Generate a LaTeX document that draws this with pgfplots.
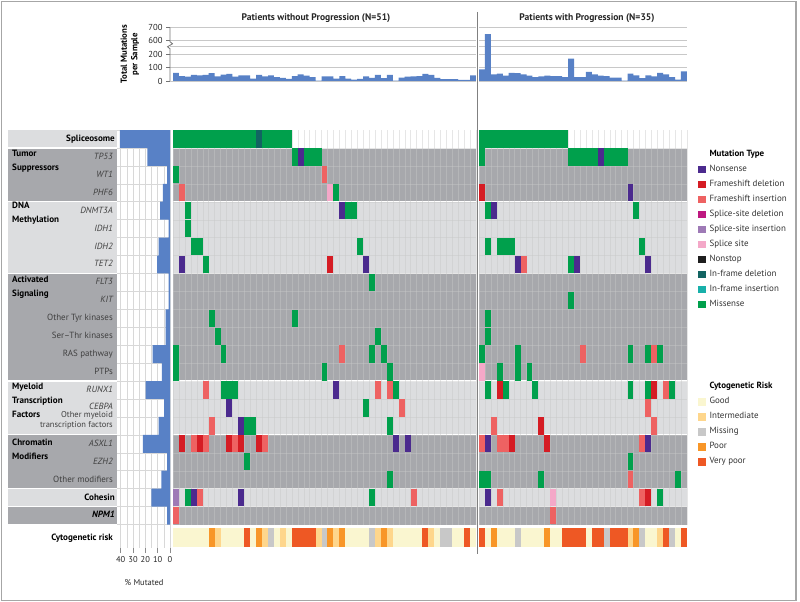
\documentclass[border=0pt]{standalone}
\usepackage{pgfplots}
\pgfplotsset{compat=1.18}
\usepackage{fontspec}
\setmainfont{PT Sans}
\definecolor{barblue}{RGB}{88,129,198}
\definecolor{bandD}{RGB}{167,168,172}
\definecolor{bandL}{RGB}{220,221,223}
\definecolor{cN}{RGB}{75,42,142}
\definecolor{cD}{RGB}{213,28,36}
\definecolor{cI}{RGB}{238,98,98}
\definecolor{cSD}{RGB}{190,24,128}
\definecolor{cSI}{RGB}{158,122,182}
\definecolor{cS}{RGB}{244,168,200}
\definecolor{cNS}{RGB}{30,30,30}
\definecolor{cF}{RGB}{18,100,98}
\definecolor{cFI}{RGB}{24,176,170}
\definecolor{cG}{RGB}{0,160,76}
\definecolor{rGood}{RGB}{250,246,208}
\definecolor{rInt}{RGB}{254,214,140}
\definecolor{rMis}{RGB}{200,200,200}
\definecolor{rPoor}{RGB}{248,150,40}
\definecolor{rVP}{RGB}{238,88,36}
\definecolor{gridc}{RGB}{200,200,200}

\pgfdeclareplotmark{cell}{\pgfpathrectangle{\pgfqpoint{-2.97bp}{-8.65bp}}{\pgfqpoint{5.94bp}{17.3bp}}\pgfusepathqfill}
\pgfdeclareplotmark{cyto}{\pgfpathrectangle{\pgfqpoint{-2.97bp}{-9.5bp}}{\pgfqpoint{5.94bp}{19bp}}\pgfusepathqfill}

\pgfplotsset{
  sqleg/.style={legend image code/.code={\fill[#1] (0bp,-3.2bp) rectangle (6.4bp,3.2bp);}},
  mutclasses/.style={scatter/classes={
     G={mark=cell,fill=cG,draw=cG},
     N={mark=cell,fill=cN,draw=cN},
     D={mark=cell,fill=cD,draw=cD},
     I={mark=cell,fill=cI,draw=cI},
     P={mark=cell,fill=cSI,draw=cSI},
     S={mark=cell,fill=cS,draw=cS},
     F={mark=cell,fill=cF,draw=cF}}},
  cytoclasses/.style={scatter/classes={
     g={mark=cyto,fill=rGood,draw=rGood},
     i={mark=cyto,fill=rInt,draw=rInt},
     m={mark=cyto,fill=rMis,draw=rMis},
     p={mark=cyto,fill=rPoor,draw=rPoor},
     v={mark=cyto,fill=rVP,draw=rVP}}},
  heat/.style={scale only axis, y dir=reverse, ymin=-0.5, ymax=21.5, height=394.5bp,
     axis on top, axis line style={draw=none}, major tick length=0pt,
     xticklabels={}, yticklabels={}, ytick={0.5,1.5,...,20.5},
     grid=major, major grid style={color=gridc, line width=0.3bp, opacity=0.45}},
  legsty/.style={legend style={at={#1}, anchor=north west, draw=none, fill=none, inner sep=0pt,
    row sep=5.2bp, font=\fontsize{9}{10}\selectfont, text=black!80,
    nodes={inner sep=0.6bp, text height=6.6bp, text depth=2bp},
    /tikz/every odd column/.append style={column sep=4bp}},
    legend cell align=left},
}
\newcommand\heatbands[1]{%
  \fill[bandD] (axis cs:-0.5,0.5) rectangle (axis cs:#1,3.5);
  \fill[bandL] (axis cs:-0.5,3.5) rectangle (axis cs:#1,7.5);
  \fill[bandD] (axis cs:-0.5,7.5) rectangle (axis cs:#1,13.5);
  \fill[bandL] (axis cs:-0.5,13.5) rectangle (axis cs:#1,16.5);
  \fill[bandD] (axis cs:-0.5,16.5) rectangle (axis cs:#1,19.5);
  \fill[bandL] (axis cs:-0.5,19.5) rectangle (axis cs:#1,20.5);
  \fill[bandD] (axis cs:-0.5,20.5) rectangle (axis cs:#1,21.5);
  \draw[white, line width=1.2bp] (axis cs:-0.5,0.5) -- (axis cs:#1,0.5);
  \draw[white, line width=1.2bp] (axis cs:-0.5,3.5) -- (axis cs:#1,3.5);
  \draw[white, line width=1.2bp] (axis cs:-0.5,7.5) -- (axis cs:#1,7.5);
  \draw[white, line width=1.2bp] (axis cs:-0.5,13.5) -- (axis cs:#1,13.5);
  \draw[white, line width=1.2bp] (axis cs:-0.5,16.5) -- (axis cs:#1,16.5);
  \draw[white, line width=1.2bp] (axis cs:-0.5,19.5) -- (axis cs:#1,19.5);
  \draw[white, line width=1.2bp] (axis cs:-0.5,20.5) -- (axis cs:#1,20.5);
}

\begin{document}
\begin{tikzpicture}
\path (0bp,0bp) rectangle (800bp,602bp);
\draw[black!35, line width=1.1bp] (1.7bp,1.7bp) rectangle (796bp,600.3bp);

\begin{scope}[x=1bp,y=1bp]
% label column bands
\fill[bandL] (8,472) rectangle (117,454.67);
\fill[bandD] (8,453.47) rectangle (117,400.88);
\fill[bandL] (8,399.68) rectangle (117,329.16);
\fill[bandD] (8,327.96) rectangle (117,221.58);
\fill[bandL] (8,220.38) rectangle (117,167.79);
\fill[bandD] (8,166.59) rectangle (117,114.0);
\fill[bandL] (8,112.8) rectangle (117,96.07);
\fill[bandD] (8,94.87) rectangle (117,77.54);
% group labels
\begin{scope}[every node/.style={font=\bfseries\fontsize{9.1}{10}\selectfont, inner sep=0pt, anchor=mid west}]
\node at (12,447.5) {Tumor};
\node at (12,433.5) {Suppressors};
\node at (12,396) {DNA};
\node at (12,382) {Methylation};
\node at (12,322) {Activated};
\node at (12,308) {Signaling};
\node at (12,215.3) {Myeloid};
\node at (12,201.3) {Transcription};
\node at (12,187) {Factors};
\node at (12,159.3) {Chromatin};
\node at (12,145.3) {Modifiers};
\end{scope}
\begin{scope}[every node/.style={font=\bfseries\fontsize{9.1}{10}\selectfont, inner sep=0pt, anchor=mid east}]
\node at (115,463) {Spliceosome};
\node at (115,104.4) {Cohesin};
\node at (115,86.5) {\itshape NPM1};
\node at (113,64) {Cytogenetic risk};
\end{scope}
\begin{scope}[every node/.style={font=\itshape\fontsize{9}{10}\selectfont, text=black!75, inner sep=0pt, anchor=mid east}]
\node at (113,445.1) {TP53};
\node at (113,427.2) {WT1};
\node at (113,409.2) {PHF6};
\node at (113,391.3) {DNMT3A};
\node at (113,373.4) {IDH1};
\node at (113,355.4) {IDH2};
\node at (113,337.5) {TET2};
\node at (113,319.6) {FLT3};
\node at (113,301.6) {KIT};
\node at (113,212) {RUNX1};
\node at (113,194.6) {CEBPA};
\node at (113,158.2) {ASXL1};
\node at (113,140.3) {EZH2};
\end{scope}
\begin{scope}[every node/.style={font=\fontsize{9}{10}\selectfont, text=black!75, inner sep=0pt, anchor=mid east}]
\node at (113,283.7) {Other Tyr kinases};
\node at (113,265.8) {Ser--Thr kinases};
\node at (113,247.9) {RAS pathway};
\node at (113,229.9) {PTPs};
\node[align=right, font=\fontsize{8.5}{9.3}\selectfont] at (113,177.4) {Other myeloid\\transcription factors};
\node at (113,122.3) {Other modifiers};
\end{scope}
% titles
\node[font=\bfseries\fontsize{9.6}{11}\selectfont, text=black!85] at (316,584) {Patients without Progression (N=51)};
\node[font=\bfseries\fontsize{9.6}{11}\selectfont, text=black!85] at (587,584) {Patients with Progression (N=35)};
\end{scope}

% ---------- top bar charts ----------
\begin{axis}[scale only axis, at={(170.03bp,521bp)}, anchor=south west,
  width=305.91bp, height=53.7bp, xmin=-1, xmax=50.5, ymin=0, ymax=400,
  axis line style={draw=none}, xtick=\empty,
  ytick={0,100,200,300,400}, yticklabels={0,100,200,600,700}, ytick pos=left,
  extra y ticks={257}, extra y tick labels={}, extra y tick style={major tick length=0pt},
  ymajorgrids, major grid style={gridc, line width=0.7bp},
  tick align=outside, major tick length=4bp, ytick style={black!55, line width=0.8bp},
  yticklabel style={font=\fontsize{8.7}{9}\selectfont, text=black!85},
  ylabel={Total Mutations\\per Sample},
  ylabel style={font=\bfseries\fontsize{8.8}{10.5}\selectfont, align=center, at={(axis description cs:-0.131,0.5)}, anchor=center},
  clip=false]
\addplot[ybar, bar width=5.94bp, fill=barblue, draw=none] coordinates {
(0,60) (1,37) (2,32) (3,45) (4,42) (5,45) (6,58) (7,34) (8,47) (9,53) (10,32) (11,42) (12,42) (13,18) (14,45) (15,34) (16,42) (17,29) (18,24) (19,16) (20,37) (21,50) (22,40) (23,29) (24,3) (25,34) (26,34) (27,18) (28,37) (29,18) (30,10) (31,16) (32,34) (33,24) (34,45) (35,21) (36,45) (37,3) (38,26) (39,32) (40,34) (41,37) (42,53) (43,45) (44,24) (45,13) (46,13) (47,13) (48,8) (49,8) (50,42)};
\draw[black!55, line width=0.8bp] (axis cs:-1,0) -- (axis cs:-1,240) -- ++(-2.5bp,2bp) -- ++(5bp,3bp) -- ++(-2.5bp,2bp) -- (axis cs:-1,400);
\end{axis}

\begin{axis}[scale only axis, at={(479bp,521bp)}, anchor=south west,
  width=207.9bp, height=53.7bp, xmin=-0.5, xmax=34.5, ymin=0, ymax=400,
  axis line style={draw=none}, xtick=\empty, major tick length=0pt,
  ytick={0,100,200,257,300,400}, yticklabels={},
  ymajorgrids, major grid style={gridc, line width=0.7bp}]
\addplot[ybar, bar width=5.94bp, fill=barblue, draw=none] coordinates {
(0,87) (1,350) (2,50) (3,55) (4,40) (5,60) (6,58) (7,50) (8,40) (9,29) (10,34) (11,40) (12,37) (13,37) (14,29) (15,166) (16,29) (17,29) (18,68) (19,50) (20,40) (21,37) (22,26) (23,26) (24,3) (25,55) (26,42) (27,21) (28,42) (29,34) (30,60) (31,50) (32,29) (33,10) (34,71)};
\end{axis}

% ---------- percent mutated ----------
\begin{axis}[scale only axis, at={(117bp,472bp)}, anchor=north west,
  width=54.23bp, height=418bp, xmin=-1, xmax=43, x dir=reverse,
  ymin=-0.5, ymax=22.81, y dir=reverse,
  axis line style={draw=none},
  xtick={0,10,20,30,40}, minor xtick={5,15,25,35}, xtick pos=bottom, tick align=outside,
  major tick length=5bp, minor tick length=0pt, xtick style={black!45, line width=0.6bp},
  ytick={-0.5,0.5,...,21.5}, yticklabels={}, ytick style={draw=none},
  grid=both, major grid style={gridc!70, line width=0.5bp}, minor grid style={gridc!70, line width=0.5bp},
  xticklabel style={font=\fontsize{8.5}{9}\selectfont, text=black!85},
  /pgf/number format/assume math mode=true,
  xlabel={\% Mutated}, xlabel style={at={(axis description cs:0.5,-0.0837)}, anchor=center, font=\fontsize{8.5}{9}\selectfont, text=black!85}]
\addplot[xbar, bar width=17.93bp, fill=barblue, draw=none] coordinates {
(40.7,0) (18.3,1) (2.3,2) (5.8,3) (8.1,4) (1.2,5) (9.3,6) (10.5,7) (1.2,8) (1.2,9) (3.5,10) (3.5,11) (14.0,12) (6.5,13) (19.8,14) (4.7,15) (9.3,16) (22.1,17) (2.3,18) (7.0,19) (15.1,20) (2.3,21)};
\end{axis}

% ---------- heatmap left ----------
\begin{axis}[heat, at={(173bp,472bp)}, anchor=north west, width=302.94bp,
  xmin=-0.5, xmax=50.5, xtick={-0.5,0.5,...,50.5}]
\heatbands{50.5}
\addplot[scatter, only marks, point meta=explicit symbolic, mutclasses, forget plot]
 table[row sep=\\, x=c, y=r, meta=t] {c r t\\
0 0 G\\1 0 G\\2 0 G\\3 0 G\\4 0 G\\5 0 G\\6 0 G\\7 0 G\\8 0 G\\9 0 G\\10 0 G\\11 0 G\\12 0 G\\13 0 G\\14 0 F\\15 0 G\\16 0 G\\17 0 G\\18 0 G\\19 0 G\\
20 1 G\\21 1 N\\22 1 G\\23 1 G\\24 1 G\\
0 2 G\\25 2 I\\
1 3 I\\26 3 S\\27 3 G\\
2 4 G\\28 4 N\\29 4 G\\30 4 G\\
2 5 G\\
3 6 G\\4 6 G\\31 6 G\\
1 7 N\\5 7 G\\26 7 D\\32 7 N\\
33 8 G\\
6 10 G\\20 10 G\\
7 11 G\\34 11 G\\
0 12 G\\8 12 G\\28 12 I\\33 12 G\\35 12 G\\
0 13 G\\25 13 G\\36 13 G\\
5 14 I\\8 14 G\\9 14 G\\10 14 G\\27 14 N\\34 14 I\\36 14 I\\37 14 G\\
9 15 N\\32 15 G\\38 15 I\\
6 16 I\\11 16 N\\12 16 G\\13 16 G\\36 16 G\\
1 17 D\\3 17 I\\4 17 D\\5 17 I\\9 17 D\\10 17 I\\11 17 D\\14 17 D\\15 17 I\\37 17 N\\39 17 N\\
12 18 G\\
36 19 G\\
0 20 P\\2 20 G\\3 20 N\\4 20 I\\11 20 N\\33 20 G\\40 20 I\\
0 21 I\\
};
\end{axis}

% ---------- heatmap right ----------
\begin{axis}[heat, at={(479bp,472bp)}, anchor=north west, width=207.9bp,
  xmin=-0.5, xmax=34.5, xtick={-0.5,0.5,...,34.5}, legsty={(1.053,0.952)}]
\heatbands{34.5}
\addplot[scatter, only marks, point meta=explicit symbolic, mutclasses, forget plot]
 table[row sep=\\, x=c, y=r, meta=t] {c r t\\
0 0 G\\1 0 G\\2 0 G\\3 0 G\\4 0 G\\5 0 G\\6 0 G\\7 0 G\\8 0 G\\9 0 G\\10 0 G\\11 0 G\\12 0 G\\13 0 G\\14 0 G\\
0 1 G\\15 1 G\\16 1 G\\17 1 G\\18 1 G\\19 1 G\\20 1 N\\21 1 G\\22 1 G\\23 1 G\\24 1 G\\
0 3 D\\25 3 N\\
1 4 G\\2 4 N\\26 4 G\\
1 6 G\\3 6 G\\4 6 G\\5 6 G\\27 6 G\\
6 7 N\\7 7 I\\15 7 G\\16 7 N\\28 7 N\\
15 9 G\\
1 10 G\\
1 11 G\\
0 12 G\\6 12 G\\17 12 I\\25 12 G\\28 12 G\\29 12 I\\30 12 G\\
0 13 S\\3 13 G\\6 13 G\\8 13 G\\
1 14 G\\3 14 D\\4 14 G\\9 14 G\\25 14 G\\28 14 G\\29 14 D\\31 14 I\\32 14 G\\
28 15 I\\
2 16 I\\10 16 D\\29 16 I\\
0 17 I\\1 17 N\\3 17 I\\4 17 I\\5 17 D\\11 17 D\\27 17 I\\28 17 N\\
25 18 G\\
0 19 G\\1 19 G\\10 19 G\\25 19 I\\33 19 G\\
1 20 N\\3 20 I\\12 20 S\\27 20 I\\28 20 D\\30 20 G\\
12 21 I\\
};
\addlegendimage{empty legend}\addlegendentry{\textbf{\textcolor{black}{Mutation Type}}}
\addlegendimage{sqleg=cN}\addlegendentry{Nonsense}
\addlegendimage{sqleg=cD}\addlegendentry{Frameshift deletion}
\addlegendimage{sqleg=cI}\addlegendentry{Frameshift insertion}
\addlegendimage{sqleg=cSD}\addlegendentry{Splice-site deletion}
\addlegendimage{sqleg=cSI}\addlegendentry{Splice-site insertion}
\addlegendimage{sqleg=cS}\addlegendentry{Splice site}
\addlegendimage{sqleg=cNS}\addlegendentry{Nonstop}
\addlegendimage{sqleg=cF}\addlegendentry{In-frame deletion}
\addlegendimage{sqleg=cFI}\addlegendentry{In-frame insertion}
\addlegendimage{sqleg=cG}\addlegendentry{Missense}
\end{axis}

% ---------- cytogenetic strips ----------
\begin{axis}[scale only axis, at={(173bp,74bp)}, anchor=north west, width=302.94bp, height=19bp,
  xmin=-0.5, xmax=50.5, ymin=-0.5, ymax=0.5, axis line style={draw=none}, xtick=\empty, ytick=\empty]
\addplot[scatter, only marks, point meta=explicit symbolic, cytoclasses, forget plot]
 table[row sep=\\, x=c, y expr=0, meta=t] {c t\\
0 g\\1 g\\2 g\\3 g\\4 g\\5 g\\6 p\\7 i\\8 g\\9 g\\10 g\\11 g\\12 v\\13 g\\14 p\\15 i\\16 m\\17 g\\18 i\\19 g\\20 v\\21 v\\22 v\\23 v\\24 i\\25 m\\26 p\\27 i\\28 p\\29 g\\30 g\\31 g\\32 g\\33 m\\34 i\\35 p\\36 i\\37 g\\38 g\\39 g\\40 g\\41 g\\42 v\\43 i\\44 g\\45 m\\46 m\\47 g\\48 g\\49 v\\50 g\\
};
\end{axis}

\begin{axis}[scale only axis, at={(479bp,74bp)}, anchor=north west, width=207.9bp, height=19bp,
  xmin=-0.5, xmax=34.5, ymin=-0.5, ymax=0.5, axis line style={draw=none}, xtick=\empty, ytick=\empty,
  legsty={(1.053,8.71)}]
\addplot[scatter, only marks, point meta=explicit symbolic, cytoclasses, forget plot]
 table[row sep=\\, x=c, y expr=0, meta=t] {c t\\
0 v\\1 g\\2 p\\3 g\\4 g\\5 g\\6 m\\7 g\\8 g\\9 g\\10 g\\11 p\\12 g\\13 g\\14 v\\15 v\\16 v\\17 v\\18 g\\19 v\\20 v\\21 m\\22 v\\23 v\\24 v\\25 i\\26 p\\27 m\\28 g\\29 g\\30 i\\31 v\\32 m\\33 g\\34 v\\
};
\addlegendimage{empty legend}\addlegendentry{\textbf{\textcolor{black}{Cytogenetic Risk}}}
\addlegendimage{sqleg=rGood}\addlegendentry{Good}
\addlegendimage{sqleg=rInt}\addlegendentry{Intermediate}
\addlegendimage{sqleg=rMis}\addlegendentry{Missing}
\addlegendimage{sqleg=rPoor}\addlegendentry{Poor}
\addlegendimage{sqleg=rVP}\addlegendentry{Very poor}
\end{axis}

% divider
\draw[black!50, line width=1.6bp] (477.3bp,590bp) -- (477.3bp,48bp);
\end{tikzpicture}
\end{document}
